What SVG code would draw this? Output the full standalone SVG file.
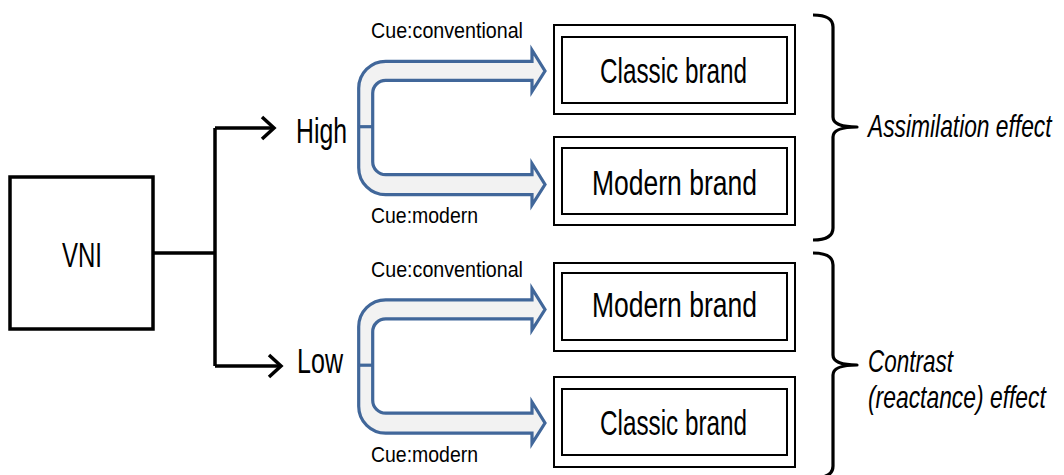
<svg xmlns="http://www.w3.org/2000/svg" width="1064" height="475" viewBox="0 0 1064 475">
  <defs>
    <style>
      .txt { font-family: "Liberation Sans", Arial, sans-serif; fill: #000; }
      .big { font-size: 35px; }
      .cue { font-size: 22px; }
      .eff { font-size: 32px; font-style: italic; }
      .box { fill: #fff; stroke: #000; stroke-width: 2; }
      .vni { fill: #fff; stroke: #000; stroke-width: 3.5; }
      .wire { fill: none; stroke: #000; stroke-width: 3.5; }
      .block { fill: #f2f2f2; stroke: #41679a; stroke-width: 3.2; stroke-linejoin: miter; }
      .stub { fill: none; stroke: #41679a; stroke-width: 3.2; }
      .brace { fill: none; stroke: #000; stroke-width: 3.2; stroke-linejoin: round; }
    </style>
    <marker id="chev" markerUnits="userSpaceOnUse" markerWidth="20" markerHeight="30" refX="12" refY="12" orient="auto" overflow="visible">
      <polyline points="0,1 12,12 0,23" fill="none" stroke="#000" stroke-width="3.5" stroke-linejoin="miter"/>
    </marker>
    <!-- forked block arrow (two heads) -->
    <path id="fork" d="M 532,61.3 L 532,50 L 545,71 L 532,91.5 L 532,80.3 L 386,80.3 A 13,13 0 0 0 372.7,93.3 L 372.7,161.7 A 13,13 0 0 0 385.7,174.7 L 532,174.7 L 532,163.5 L 545,184.5 L 532,205 L 532,194.7 L 386,194.7 A 27,27 0 0 1 358.7,167.7 L 358.7,88.3 A 27,27 0 0 1 385.7,61.3 Z"/>
  </defs>

  <rect width="1064" height="475" fill="#fff"/>

  <!-- connectors -->
  <g id="connectors">
    <path class="wire" d="M 153,253 L 215,253"/>
    <path class="wire" d="M 215,366 L 215,128"/>
    <path class="wire" d="M 215,128 L 274,128" marker-end="url(#chev)"/>
    <path class="wire" d="M 215,366 L 281,366" marker-end="url(#chev)"/>
    <g id="fork-high">
      <use href="#fork" class="block"/>
      <path class="stub" d="M 358.7,126.7 L 372.7,126.7"/>
    </g>
    <g id="fork-low" transform="translate(0,238.5)">
      <use href="#fork" class="block"/>
      <path class="stub" d="M 358.7,126.7 L 372.7,126.7"/>
    </g>
    <text class="txt cue" x="371" y="38" textLength="152" lengthAdjust="spacingAndGlyphs">Cue:conventional</text>
    <text class="txt cue" x="371" y="223" textLength="107" lengthAdjust="spacingAndGlyphs">Cue:modern</text>
    <text class="txt cue" x="371" y="277" textLength="152" lengthAdjust="spacingAndGlyphs">Cue:conventional</text>
    <text class="txt cue" x="371" y="462" textLength="107" lengthAdjust="spacingAndGlyphs">Cue:modern</text>
  </g>

  <!-- VNI -->
  <g id="vni">
    <rect class="vni" x="10" y="177" width="143" height="152"/>
    <text class="txt big" x="62" y="267" textLength="40" lengthAdjust="spacingAndGlyphs">VNI</text>
  </g>

  <!-- levels -->
  <g id="high">
    <text class="txt big" x="296" y="143" textLength="51" lengthAdjust="spacingAndGlyphs">High</text>
  </g>
  <g id="low">
    <text class="txt big" x="297" y="373" textLength="46" lengthAdjust="spacingAndGlyphs">Low</text>
  </g>

  <!-- brand boxes -->
  <g id="high-classic">
    <rect class="box" x="554" y="25" width="241" height="89"/>
    <rect class="box" x="562" y="37" width="225" height="66"/>
    <text class="txt big" x="600" y="83" textLength="147" lengthAdjust="spacingAndGlyphs">Classic brand</text>
  </g>
  <g id="high-modern">
    <rect class="box" x="554" y="137" width="241" height="88"/>
    <rect class="box" x="562" y="148" width="225" height="66"/>
    <text class="txt big" x="592" y="195" textLength="165" lengthAdjust="spacingAndGlyphs">Modern brand</text>
  </g>
  <g id="low-modern">
    <rect class="box" x="554" y="263" width="241" height="88"/>
    <rect class="box" x="562" y="273" width="225" height="67"/>
    <text class="txt big" x="592" y="317" textLength="165" lengthAdjust="spacingAndGlyphs">Modern brand</text>
  </g>
  <g id="low-classic">
    <rect class="box" x="554" y="377" width="241" height="90"/>
    <rect class="box" x="562" y="389" width="225" height="66"/>
    <text class="txt big" x="600" y="435" textLength="147" lengthAdjust="spacingAndGlyphs">Classic brand</text>
  </g>

  <!-- effect groups (labels narrowed horizontally) -->
  <g id="assimilation">
    <path class="brace" d="M 813,15 Q 833,15 833,27 L 833,117 Q 833,127 857,127 Q 833,127 833,137 L 833,228 Q 833,240 813,240"/>
    <g transform="translate(868,0) scale(0.72,1)">
      <text class="txt eff" x="0" y="137" textLength="255" lengthAdjust="spacingAndGlyphs">Assimilation effect</text>
    </g>
  </g>
  <g id="contrast">
    <path class="brace" d="M 813,253 Q 833,253 833,265 L 833,355 Q 833,365 857,365 Q 833,365 833,375 L 833,466 Q 833,478 813,478"/>
    <g transform="translate(868,0) scale(0.72,1)">
      <text class="txt eff" x="0" y="372" textLength="118" lengthAdjust="spacingAndGlyphs">Contrast</text>
      <text class="txt eff" x="0" y="408" textLength="247" lengthAdjust="spacingAndGlyphs">(reactance) effect</text>
    </g>
  </g>
</svg>
